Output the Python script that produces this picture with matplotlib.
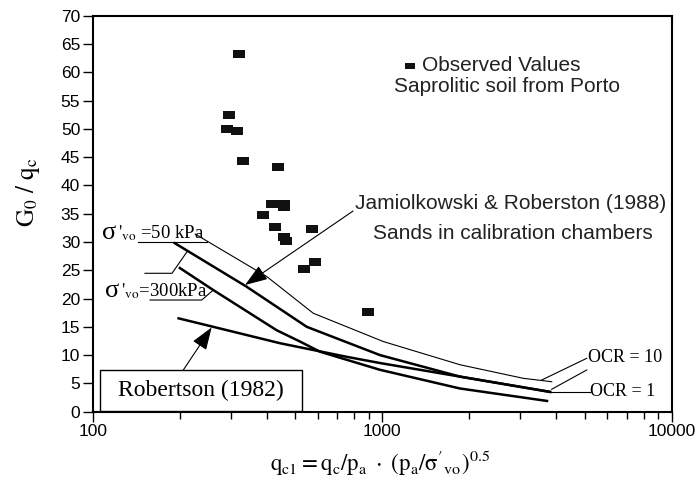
import matplotlib.pyplot as plt
from matplotlib.patches import Rectangle
from matplotlib.ticker import LogLocator, NullFormatter

plt.rcParams['font.family'] = ['Liberation Sans', 'DejaVu Sans']
plt.rcParams['mathtext.fontset'] = 'stix'

# Observed values - saprolitic soil from Porto
obs_qc1 = [321, 295, 290, 314, 330, 437, 417, 458, 458, 388, 426, 574, 458, 466, 537, 585, 893]
obs_ratio = [63.3, 52.4, 50.0, 49.6, 44.3, 43.2, 36.8, 36.8, 36.2, 34.8, 32.7, 32.3, 30.9, 30.2, 25.2, 26.4, 17.6]

# Jamiolkowski & Robertson (1988) curves
thin_x = [226, 399, 578, 1009, 1857, 3072, 3851]
thin_y = [31.4, 23.9, 17.4, 12.4, 8.3, 5.9, 5.3]
thick1_x = [192, 340, 549, 983, 1857, 3800]
thick1_y = [29.8, 22.1, 15.0, 10.0, 6.2, 3.5]
thick2_x = [200, 261, 432, 520, 610, 983, 1857, 3710]
thick2_y = [25.4, 21.5, 14.4, 12.4, 10.6, 7.4, 4.1, 1.9]

# Robertson (1982)
rob_x = [198, 261, 444, 754, 983, 1857, 3800]
rob_y = [16.5, 15.0, 12.1, 9.7, 8.6, 6.2, 3.5]

serif = ['Liberation Serif', 'DejaVu Serif']
rect_marker = [(-0.8, -0.5), (0.8, -0.5), (0.8, 0.5), (-0.8, 0.5)]

fig = plt.figure(figsize=(6.97, 4.8), dpi=100)
ax = fig.add_axes([0.133, 0.1423, 0.8307, 0.825])

ax.plot(thin_x, thin_y, color='k', lw=0.8)
ax.plot(thick1_x, thick1_y, color='k', lw=1.8)
ax.plot(thick2_x, thick2_y, color='k', lw=1.8)
ax.plot(rob_x, rob_y, color='k', lw=1.8)
ax.plot(obs_qc1, obs_ratio, linestyle='none', marker=rect_marker, markersize=8.5,
        color='#111111', markeredgewidth=0)

ax.set_xscale('log')
ax.set_xlim(100, 10000)
ax.set_ylim(0, 70)
ax.set_yticks(range(0, 75, 5))
ax.set_xticks([100, 1000, 10000])
ax.set_xticklabels(['100', '1000', '10000'])
ax.xaxis.set_minor_locator(LogLocator(subs=range(2, 10)))
ax.xaxis.set_minor_formatter(NullFormatter())
ax.tick_params(direction='out', length=7, width=1, labelsize=12.5, pad=2)
ax.tick_params(which='minor', direction='out', length=5, width=1)
for s in ax.spines.values():
    s.set_linewidth(1.5)

ax.set_xlabel(r"$\mathrm{q_{c1} = q_c/p_a\ \cdot\ (p_a/\sigma'_{vo})^{0.5}}$", fontsize=16.5)
ax.xaxis.label.set_verticalalignment('center')
ax.xaxis.set_label_coords(0.497, -0.129)
ax.set_ylabel(r"$\mathrm{G_0\ /\ q_c}$", fontsize=18)
ax.yaxis.label.set_verticalalignment('center')
ax.yaxis.set_label_coords(-0.111, 0.553)

# legend-like note
ax.plot([0.548], [0.874], transform=ax.transAxes, marker=rect_marker, markersize=6.5,
        color='#111111', markeredgewidth=0, clip_on=False)
ax.text(0.568, 0.874, 'Observed Values', transform=ax.transAxes, fontsize=15,
        ha='left', va='center', color='#222222')
ax.text(0.715, 0.821, 'Saprolitic soil from Porto', transform=ax.transAxes, fontsize=15,
        ha='center', va='center', color='#222222')

ax.text(0.7216, 0.5263, 'Jamiolkowski & Roberston (1988)', transform=ax.transAxes,
        fontsize=15, ha='center', va='center', color='#222222')
ax.text(0.725, 0.4505, 'Sands in calibration chambers', transform=ax.transAxes,
        fontsize=15, ha='center', va='center', color='#222222')

arrow = dict(arrowstyle='-|>,head_length=0.7,head_width=0.25', mutation_scale=20,
             lw=0.8, color='k', shrinkA=0, shrinkB=0)
ax.annotate('', xy=(336, 22.4), xytext=(0.4497, 0.5068), textcoords='axes fraction',
            arrowprops=arrow)
ax.annotate('', xy=(257.6, 14.9), xytext=(0.1565, 0.1053), textcoords='axes fraction',
            arrowprops=arrow)

# sigma labels and leaders
ax.text(0.0155, 0.4505, "σ", transform=ax.transAxes, fontsize=19, family=serif,
        ha='left', va='center')
ax.text(0.044, 0.4505, r"$\mathrm{'_{vo}}$ =50 kPa", transform=ax.transAxes,
        fontsize=13.5, family=serif, ha='left', va='center')
ax.text(0.0212, 0.3048, "σ", transform=ax.transAxes, fontsize=19, family=serif,
        ha='left', va='center')
ax.text(0.0497, 0.3048, r"$\mathrm{'_{vo}}$=300kPa", transform=ax.transAxes,
        fontsize=13.5, family=serif, ha='left', va='center')
lead = dict(transform=ax.transAxes, color='k', lw=0.8, clip_on=False)
ax.plot([0.0786, 0.1975], [0.4293, 0.4293], **lead)
ax.plot([0.0903, 0.137, 0.1629], [0.3495, 0.3495, 0.404], **lead)
ax.plot([0.099, 0.1883, 0.2083], [0.282, 0.282, 0.3073], **lead)

# OCR labels
ax.text(0.8554, 0.1381, 'OCR = 10', transform=ax.transAxes, fontsize=13,
        family=serif, ha='left', va='center')
ax.text(0.8589, 0.0505, 'OCR = 1', transform=ax.transAxes, fontsize=13,
        family=serif, ha='left', va='center')
ax.plot([0.7755, 0.8532], [0.08, 0.1348], **lead)
ax.plot([0.7927, 0.8532], [0.0566, 0.1053], **lead)
ax.plot([0.7898, 0.8589], [0.0505, 0.0505], **lead)

# Robertson box
ax.add_patch(Rectangle((0.0126, 0.0025), 0.3484, 0.1028, transform=ax.transAxes,
                       facecolor='white', edgecolor='k', lw=1.0, zorder=3))
ax.text(0.1867, 0.054, 'Robertson (1982)', transform=ax.transAxes, fontsize=17,
        family=serif, ha='center', va='center', zorder=4)

plt.savefig('out.png', dpi=100)
